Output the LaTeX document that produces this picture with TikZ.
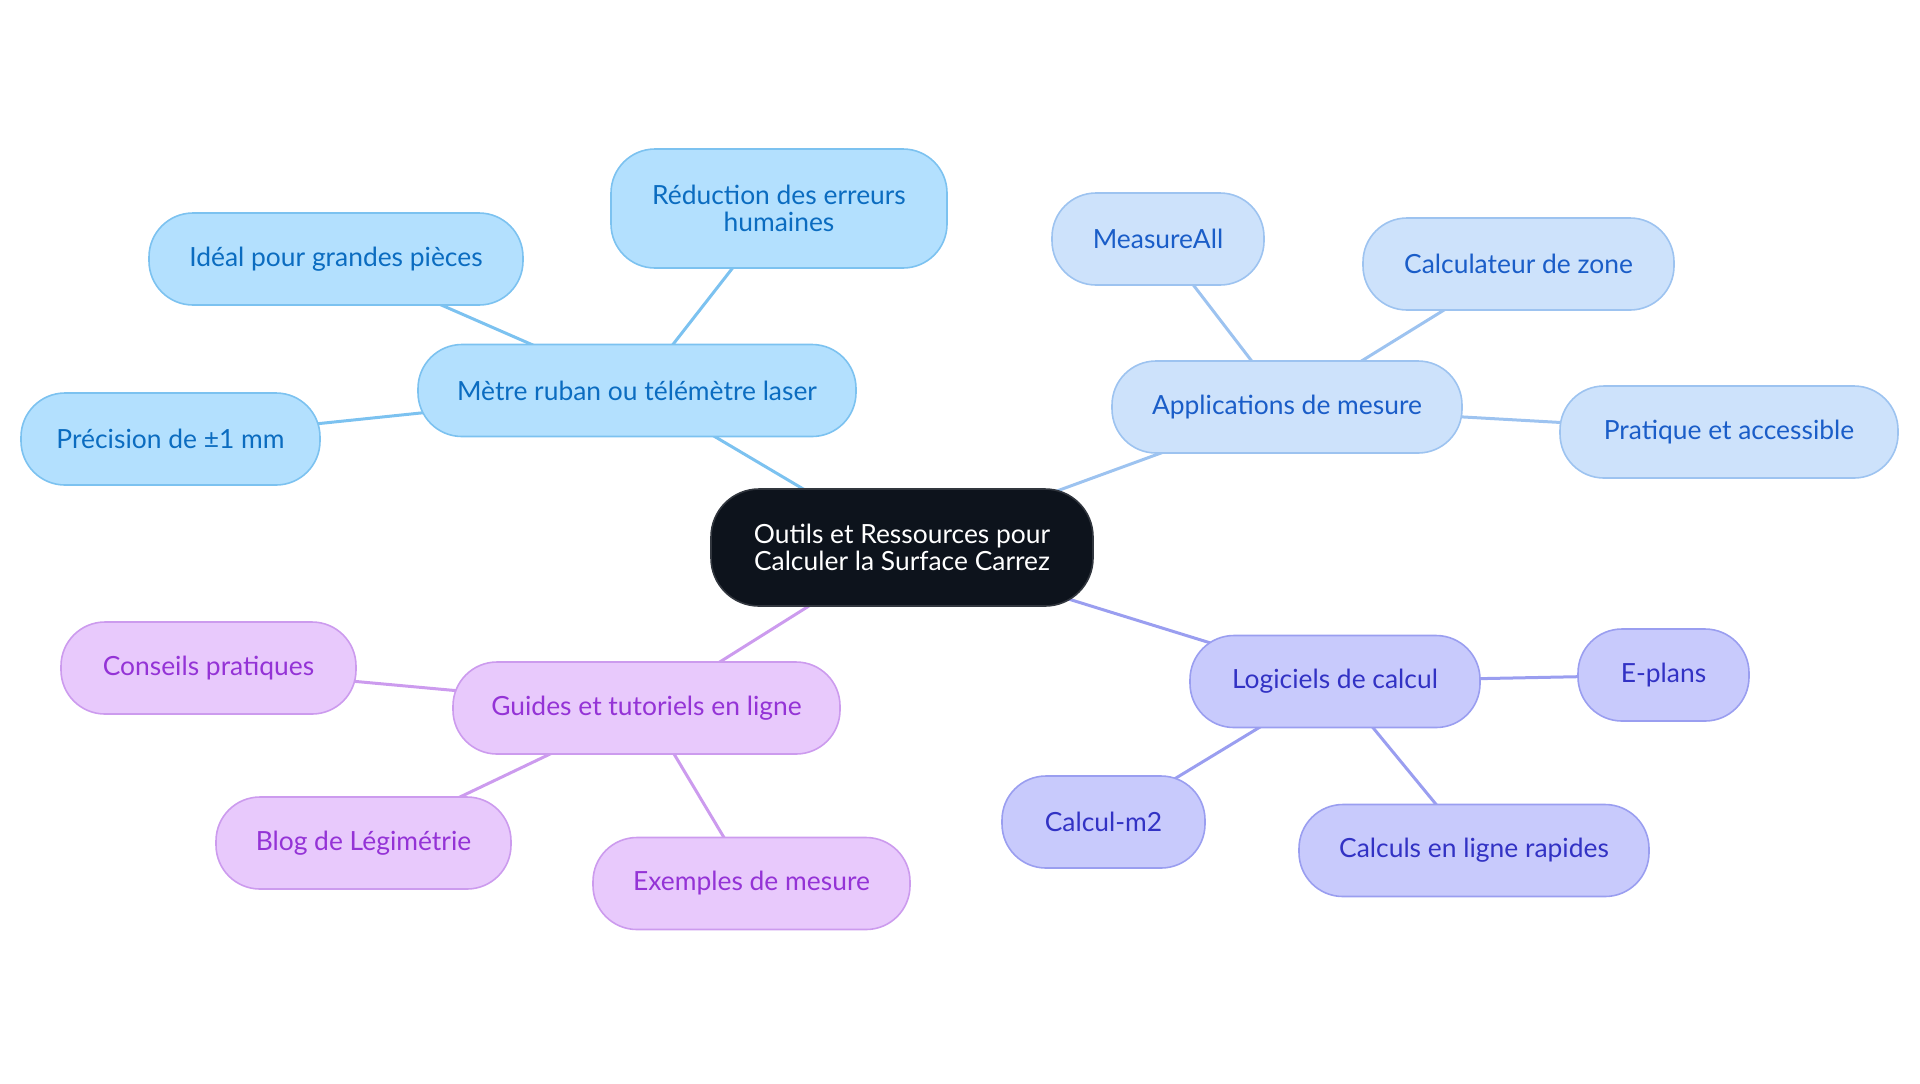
\documentclass[tikz,border=0pt]{standalone}
\usepackage{fontspec}
\setmainfont{Lato}
\pgfdeclarelayer{background}
\pgfsetlayers{background,main}
\definecolor{hubfill}{HTML}{0D131C}
\definecolor{toolfill}{HTML}{B3E0FE}
\definecolor{toolline}{HTML}{7CC2F0}
\definecolor{tooltext}{HTML}{0B6CC0}
\definecolor{appfill}{HTML}{CDE2FB}
\definecolor{appline}{HTML}{9DC3F0}
\definecolor{apptext}{HTML}{1A5DC8}
\definecolor{softfill}{HTML}{C8CAFC}
\definecolor{softline}{HTML}{9A9EF0}
\definecolor{softtext}{HTML}{3232C4}
\definecolor{guidefill}{HTML}{E8C9FC}
\definecolor{guideline}{HTML}{CC9BEE}
\definecolor{guidetext}{HTML}{9433D6}
\tikzset{
  idea/.style={
    rectangle,
    rounded corners=22pt,
    draw,
    line width=0.8pt,
    minimum height=46pt,
    inner sep=0pt,
    align=center,
    font=\fontsize{13.2}{13.5}\selectfont,
  },
  hub/.style={idea, fill=hubfill, draw=hubfill!85!white, text=white, rounded corners=24pt},
  tool/.style={idea, fill=toolfill, draw=toolline, text=tooltext},
  app/.style={idea, fill=appfill, draw=appline, text=apptext},
  soft/.style={idea, fill=softfill, draw=softline, text=softtext},
  guide/.style={idea, fill=guidefill, draw=guideline, text=guidetext},
  wire/.style={line width=1.5pt},
}

\begin{document}
\begin{tikzpicture}[x=0.5pt, y=-0.5pt]
  \useasboundingbox (0,0) rectangle (1920,1083);

  \node[hub, minimum width=191pt, minimum height=58.5pt] (hub) at (902,547.5)
    {Outils et Ressources pour\\Calculer la Surface Carrez};

  % metre ruban
  \node[tool, minimum width=219pt] (metre) at (637,390.5) {Mètre ruban ou télémètre laser};
  \node[tool, minimum width=168pt, minimum height=59.5pt] (reduc) at (779,208.5) {Réduction des erreurs\\humaines};
  \node[tool, minimum width=187pt] (ideal) at (336,259) {Idéal pour grandes pièces};
  \node[tool, minimum width=149.5pt] (prec) at (170.5,439) {Précision de ±1 mm};

  % applications
  \node[app, minimum width=175pt] (appli) at (1287,407) {Applications de mesure};
  \node[app, minimum width=106pt] (measure) at (1158,239) {MeasureAll};
  \node[app, minimum width=155.5pt] (zone) at (1518.5,264) {Calculateur de zone};
  \node[app, minimum width=169pt] (pratique) at (1729,432) {Pratique et accessible};

  % logiciels
  \node[soft, minimum width=145pt] (logi) at (1335,681.5) {Logiciels de calcul};
  \node[soft, minimum width=85.5pt] (eplans) at (1663.5,675) {E-plans};
  \node[soft, minimum width=101.5pt] (calcm) at (1103.5,822) {Calcul-m2};
  \node[soft, minimum width=175pt] (rapide) at (1474,850.5) {Calculs en ligne rapides};

  % guides
  \node[guide, minimum width=193.5pt] (guides) at (646.5,708) {Guides et tutoriels en ligne};
  \node[guide, minimum width=147.5pt] (conseils) at (208.5,668) {Conseils pratiques};
  \node[guide, minimum width=147.5pt] (blog) at (363.5,843) {Blog de Légimétrie};
  \node[guide, minimum width=158.5pt] (exemples) at (751.5,883.5) {Exemples de mesure};

  % connectors behind the boxes
  \begin{pgfonlayer}{background}
    \draw[wire, toolline] (hub.center) -- (metre.center);
    \foreach \leaf in {reduc, ideal, prec}
      \draw[wire, toolline] (metre.center) -- (\leaf.center);

    \draw[wire, appline] (hub.center) -- (appli.center);
    \foreach \leaf in {measure, zone, pratique}
      \draw[wire, appline] (appli.center) -- (\leaf.center);

    \draw[wire, softline] (hub.center) -- (logi.center);
    \foreach \leaf in {eplans, calcm, rapide}
      \draw[wire, softline] (logi.center) -- (\leaf.center);

    \draw[wire, guideline] (hub.center) -- (guides.center);
    \foreach \leaf in {conseils, blog, exemples}
      \draw[wire, guideline] (guides.center) -- (\leaf.center);
  \end{pgfonlayer}

\end{tikzpicture}
\end{document}
